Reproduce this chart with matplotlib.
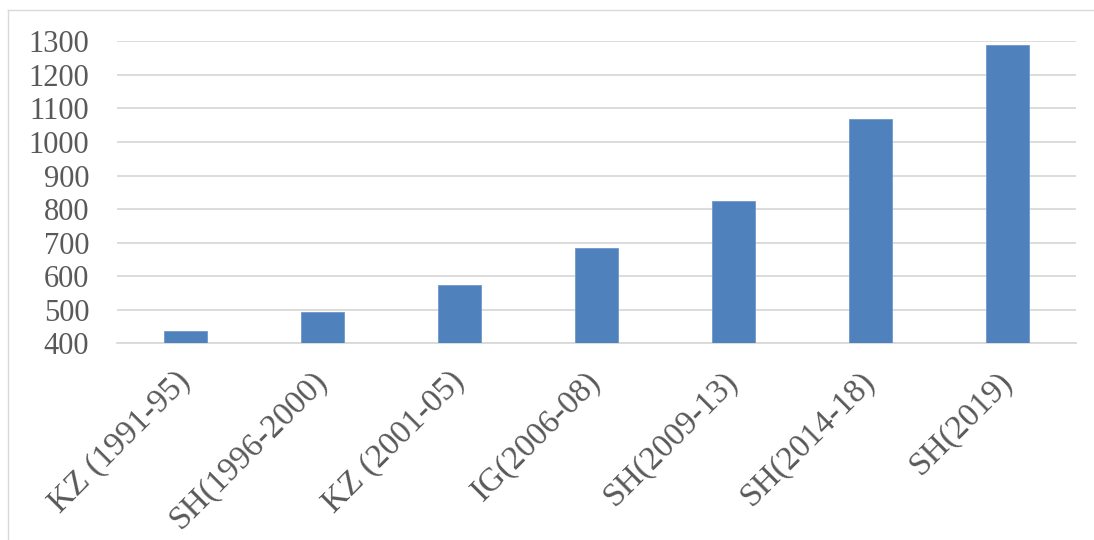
import matplotlib
matplotlib.use("Agg")
import matplotlib.pyplot as plt
from matplotlib.lines import Line2D

categories = ["KZ (1991-95)", "SH(1996-2000)", "KZ (2001-05)", "IG(2006-08)",
              "SH(2009-13)", "SH(2014-18)", "SH(2019)"]
values = [437, 494, 573, 685, 825, 1068, 1288]
yticks = [400, 500, 600, 700, 800, 900, 1000, 1100, 1200, 1300]

plt.rcParams['font.family'] = ['Liberation Serif', 'DejaVu Serif']

fig = plt.figure(figsize=(10.94, 5.40), dpi=100)
ax = fig.add_axes([117/1094, 1-343.3/540, (1076-117)/1094, (343.3-41.3)/540])

x = list(range(len(categories)))
ax.bar(x, values, width=0.31, color="#4F81BD", bottom=0, zorder=3,
       edgecolor="#6F98CB", linewidth=0.6)
ax.set_xlim(-0.5, len(categories)-0.5)
ax.set_ylim(400, 1300)
ax.set_yticks(yticks)
ax.set_yticklabels([str(t) for t in yticks], fontsize=22, color="#595959")
ax.yaxis.grid(True, color="#D9D9D9", linewidth=1.3, zorder=0)
ax.set_axisbelow(True)
for s in ["top", "right", "left"]:
    ax.spines[s].set_visible(False)
ax.spines["bottom"].set_color("#D9D9D9")
ax.spines["bottom"].set_linewidth(1.3)
ax.tick_params(axis="both", length=0)
ax.tick_params(axis="y", pad=20)
ax.set_xticks(x)
ax.set_xticklabels(categories, rotation=45, ha="right", va="center",
                   rotation_mode="anchor", fontsize=24, color="#595959")
ax.tick_params(axis="x", pad=24)

# chart border (left and top visible)
fig.add_artist(Line2D([8/1094, 8/1094], [0, 1-10/540], transform=fig.transFigure,
                      color="#D9D9D9", linewidth=1))
fig.add_artist(Line2D([8/1094, 1], [1-10/540, 1-10/540], transform=fig.transFigure,
                      color="#D9D9D9", linewidth=1))

fig.savefig("out.png", dpi=100)
